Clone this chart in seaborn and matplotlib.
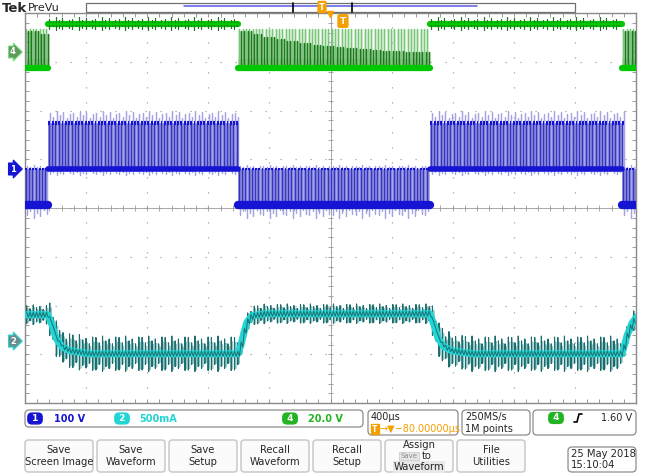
import numpy as np
import pandas as pd
import matplotlib
matplotlib.use("Agg")
import matplotlib.pyplot as plt
import seaborn as sns
from matplotlib.patches import FancyBboxPatch, Rectangle

# screen units: x in divisions (400 us/div), y in divisions
pwm_period = 0.054                                  # switching period, div
switch_edges = [0.0, 0.376, 3.486, 6.628, 9.771, 10.0]
ch4_state = [0, 1, 0, 1, 0]                         # 1 = ch4 high

ch4_high = 3.77
ch4_low = 2.87
ch4_pulse_top = 3.68
ch4_decay_top = [3.64, 3.57, 3.51, 3.46, 3.42, 3.38, 3.35, 3.32, 3.30, 3.28,
                 3.26, 3.24, 3.23, 3.22, 3.21, 3.20]
ch4_ripple = [0.10, 0.05, 0.14, 0.08, 0.12, 0.04, 0.09]

ch1_ground = 0.80
ch1_top = 1.74
ch1_bottom = 0.06
ch1_spike = [0.20, 0.12, 0.26, 0.16, 0.22, 0.10, 0.18]

ch2_env_x = [0.0, 0.376, 0.442, 0.507, 0.606, 0.736, 1.064, 3.486, 3.535, 3.584,
             3.633, 3.715, 3.928, 6.628, 6.694, 6.759, 6.858, 6.989, 7.316, 9.771,
             9.853, 9.935, 10.0]
ch2_env_y = [-2.19, -2.19, -2.40, -2.67, -2.85, -2.93, -2.99, -2.99, -2.81, -2.55,
             -2.34, -2.21, -2.17, -2.17, -2.40, -2.67, -2.85, -2.93, -2.99, -2.99,
             -2.62, -2.36, -2.25]
ch2_ripple = [0.33, 0.22, 0.36, 0.26, 0.30, 0.20, 0.34]

marker_y = {"4": 3.2, "1": ch1_ground, "2": -2.73}

scale_labels = ["100 V", "500mA", "20.0 V"]
button_labels = ["Save\nScreen Image", "Save\nWaveform", "Save\nSetup",
                 "Recall\nWaveform", "Recall\nSetup", "", "File\nUtilities"]

GREEN, GREEN_D, GREEN_L = "#00c800", "#1f7a1f", "#78c878"
BLUE, BLUE_M, BLUE_L = "#1414d2", "#3535c2", "#a4a4e4"
CYAN, TEAL, TEAL_L = "#22d4d4", "#1c6e6e", "#93c6c6"
ORANGE = "#f5a000"

sns.set_theme(style="white")
plt.rcParams['font.family'] = ['DejaVu Sans']

W, H = 652, 475
fig = plt.figure(figsize=(W / 100, H / 100), dpi=100)
fig.patch.set_facecolor("white")
ax = fig.add_axes([25 / W, (H - 403) / H, 611 / W, 390 / H])
ui = fig.add_axes([0, 0, 1, 1])
ui.set_xlim(0, W)
ui.set_ylim(H, 0)
ui.axis("off")
ui.patch.set_alpha(0)
ui.set_zorder(3)

ax.set_xlim(0, 10)
ax.set_ylim(-4, 4)

# graticule
for v in range(1, 10):
    ax.axvline(v, color="#a0a0a0", lw=0.9, ls=(0, (1, 11)), zorder=0)
for v in range(-3, 4):
    ax.axhline(v, color="#a0a0a0", lw=0.9, ls=(0, (1, 11)), zorder=0)
ax.axhline(0, color="#9a9a9a", lw=0.6, zorder=0)
ax.axvline(5, color="#9a9a9a", lw=0.6, zorder=0)
ax.vlines(np.arange(0, 10.01, 0.2), -0.06, 0.06, color="#9a9a9a", lw=0.6, zorder=0)
ax.hlines(np.arange(-4, 4.01, 0.2), 4.96, 5.04, color="#9a9a9a", lw=0.6, zorder=0)
ax.set_xticks(np.arange(0, 10.01, 0.2))
ax.set_yticks(np.arange(-4, 4.01, 0.2))
ax.tick_params(direction="in", length=3, width=0.6, color="#8a8a8a",
               top=True, right=True, bottom=True, left=True,
               labelbottom=False, labelleft=False)
for s in ax.spines.values():
    s.set_color("#8a8a8a")
    s.set_linewidth(1.0)
ax.set_xlabel("")
ax.set_ylabel("")


def line(xs, ys, **kw):
    sns.lineplot(x=np.asarray(xs), y=np.asarray(ys), ax=ax, sort=False,
                 estimator=None, legend=False, **kw)


# ---- channel 4 (green) ----
for i, st in enumerate(ch4_state):
    t0, t1 = switch_edges[i], switch_edges[i + 1]
    ts = np.arange(t0 + pwm_period * 0.4, t1, pwm_period)
    if st == 1:
        xs, ys = [], []
        for k, t in enumerate(ts):
            r = ch4_ripple[k % len(ch4_ripple)]
            xs += [t, t, t, t]
            ys += [ch4_high, ch4_high + r, ch4_high - r * 0.9, ch4_high]
        line([t0, t1], [ch4_high, ch4_high], color=GREEN, lw=4.5, zorder=3)
        line(xs, ys, color=GREEN_D, lw=0.8, zorder=4)
        line([t0, t1], [ch4_high, ch4_high], color=GREEN, lw=1.5, zorder=5)
    else:
        nb = len(ch4_decay_top)
        span = switch_edges[2] - switch_edges[1]
        tops = [ch4_decay_top[min(int((t - t0) / span * nb), nb - 1)] for t in ts]
        ax.fill_between([t0, t1], ch4_low, 3.06, color=GREEN_L, alpha=0.45, lw=0, zorder=2)
        xl, yl, xd, yd = [], [], [], []
        for k, t in enumerate(ts):
            xl += [t, t, t]
            yl += [ch4_low, ch4_pulse_top, ch4_low]
            xd += [t + 0.027, t + 0.027, t + 0.027]
            yd += [ch4_low, tops[k], ch4_low]
        line(xl, yl, color=GREEN_L, lw=1.0, zorder=2)
        line(xd, yd, color=GREEN_D, lw=1.0, zorder=3)
        line([t0, t1], [ch4_low, ch4_low], color=GREEN, lw=4.5, zorder=4)

# ---- channel 1 (blue) ----
for i, st in enumerate(ch4_state):
    t0, t1 = switch_edges[i], switch_edges[i + 1]
    ts = np.arange(t0 + pwm_period * 0.2, t1, pwm_period)
    if st == 1:
        lo, hi, band_lo, band_hi = ch1_ground, ch1_top, 4.0, 3.0
    else:
        lo, hi, band_lo, band_hi = ch1_bottom, ch1_ground, 6.0, 1.5
    ax.fill_between([t0, t1], lo, hi, color=BLUE_L, alpha=0.75, lw=0, zorder=2)
    xs, ys, xsp, ysp = [], [], [], []
    for k, t in enumerate(ts):
        s = ch1_spike[k % len(ch1_spike)]
        xs += [t, t, t]
        ys += [lo, hi, lo]
        xsp += [t + 0.025, t + 0.025, t + 0.025, t + 0.025]
        ysp += [lo, hi + s * (1 if st else 0.3), lo - s * (0.5 if st else 1.0), lo]
    line(xsp, ysp, color=BLUE_L, lw=0.9, zorder=3)
    line(xs, ys, color=BLUE_M, lw=1.0, zorder=4)
    line([t0, t1], [lo, lo], color=BLUE, lw=band_lo, zorder=5)
    for t in ts:
        ax.plot([t - 0.004, t + pwm_period * 0.5], [hi, hi], color=BLUE,
                lw=band_hi, solid_capstyle="butt", zorder=5)

# ---- channel 2 (cyan) ----
ts = np.arange(pwm_period * 0.5, 10.0, pwm_period)
env = np.interp(ts, ch2_env_x, ch2_env_y)
xr, yr, xr2, yr2 = [], [], [], []
for k, t in enumerate(ts):
    seg = np.searchsorted(switch_edges, t) - 1
    a = ch2_ripple[k % len(ch2_ripple)] * (1.0 if ch4_state[seg] else 0.55)
    xr += [t, t, t, t]
    yr += [env[k], env[k] + a, env[k] - a, env[k]]
    xr2 += [t + 0.02, t + 0.02, t + 0.02, t + 0.02]
    yr2 += [env[k], env[k] + a * 0.7, env[k] - a * 0.9, env[k]]
line(xr2, yr2, color=TEAL_L, lw=0.9, zorder=2)
line(xr, yr, color=TEAL, lw=0.8, zorder=3)
line(ch2_env_x, ch2_env_y, color=CYAN, lw=5, zorder=4)
zx, zy = [], []
for k, t in enumerate(ts):
    zx += [t, t + pwm_period / 2]
    zy += [env[k] + 0.05, env[k] - 0.05]
line(zx, zy, color=TEAL, lw=0.7, zorder=5)


# ---- channel markers on the left ----
def to_py(yd):
    return 208 - yd * 48.75


mk = {"4": ("#5e9a5e", "#7ee07e"), "1": (BLUE, BLUE), "2": ("#6c8c8c", CYAN)}
for ch, (fc, ec) in mk.items():
    ui.text(10, to_py(marker_y[ch]), ch, color="white", fontsize=6, fontweight="bold",
            va="center", ha="left",
            bbox=dict(boxstyle="rarrow,pad=0.18", fc=fc, ec=ec, lw=0.8))

# ---- top bar ----
ui.text(2, 8, "Tek", fontsize=9.5, fontweight="bold", va="center", ha="left")
ui.text(28, 8, "PreVu", fontsize=8, va="center", ha="left")
ui.add_patch(Rectangle((86, 3), 489, 9, fc="white", ec="#707070", lw=0.9))
ui.plot([184, 477], [6.3, 6.3], color="#5a5ae6", lw=1.1)
ui.plot([293, 293], [3, 12], color="black", lw=1.2)
ui.plot([352, 352], [3, 12], color="black", lw=1.2)
ui.text(322, 7, "T", fontsize=6, color="white", fontweight="bold", ha="center", va="center",
        bbox=dict(boxstyle="round,pad=0.12", fc=ORANGE, ec=ORANGE))
ui.plot([330], [13.5], marker="v", color=ORANGE, ms=5)
ui.text(343, 21, "T", fontsize=6.5, color="white", fontweight="bold", ha="center", va="center",
        bbox=dict(boxstyle="round,pad=0.2", fc=ORANGE, ec=ORANGE))


# ---- info bar ----
def rbox(x, y, w, h, fc="white", ec="#8c8c8c", r=4, lw=0.9):
    ui.add_patch(FancyBboxPatch((x + r, y + r), w - 2 * r, h - 2 * r,
                                boxstyle="round,pad=%g" % r, fc=fc, ec=ec, lw=lw))


def pill(x, y, txt, col):
    ui.text(x, y, txt, fontsize=6.5, fontweight="bold", color="white", ha="center", va="center",
            bbox=dict(boxstyle="round,pad=0.1,rounding_size=0.45", fc=col, ec=col))


rbox(25, 410, 338, 17)
pill(35, 418.5, " 1 ", BLUE)
ui.text(54, 418.5, scale_labels[0], color=BLUE, fontsize=7, fontweight="bold", va="center")
pill(122, 418.5, " 2 ", CYAN)
ui.text(139, 418.5, scale_labels[1], color=CYAN, fontsize=7, fontweight="bold", va="center")
pill(290, 418.5, " 4 ", "#22b422")
ui.text(308, 418.5, scale_labels[2], color="#22b422", fontsize=7, fontweight="bold", va="center")

rbox(368, 410, 90, 25)
ui.text(371, 417, "400µs", fontsize=7, va="center")
ui.text(375, 429, "T", fontsize=5.5, color="white", fontweight="bold", ha="center", va="center",
        bbox=dict(boxstyle="square,pad=0.12", fc=ORANGE, ec=ORANGE))
ui.text(380, 429, "→▼−80.00000µs", fontsize=7, color=ORANGE, va="center")
rbox(462, 410, 68, 25)
ui.text(465, 417, "250MS/s", fontsize=7, va="center")
ui.text(465, 429, "1M points", fontsize=7, va="center")
rbox(533, 410, 103, 25)
pill(556, 418, " 4 ", "#22b422")
ui.plot([574, 577, 579, 582], [422, 422, 414, 414], color="black", lw=1.2)
ui.text(632, 418, "1.60 V", fontsize=7, ha="right", va="center")

# ---- soft buttons ----
for i, lab in enumerate(button_labels):
    x = 25 + i * 72
    rbox(x, 440, 68, 32, fc="#fbfbfb", ec="#c4c4c4", r=3, lw=1.0)
    if lab:
        ui.text(x + 34, 456, lab, fontsize=7.2, ha="center", va="center", linespacing=1.15)
ui.text(419, 445, "Assign", fontsize=7.2, ha="center", va="center")
ui.text(409, 456, "Save", fontsize=5, color="#8a8a8a", ha="center", va="center",
        bbox=dict(boxstyle="square,pad=0.15", fc="#e6e6e6", ec="#c8c8c8", lw=0.5))
ui.text(427, 456, "to", fontsize=7.2, ha="center", va="center")
ui.text(419, 467, "Waveform", fontsize=7.2, ha="center", va="center",
        bbox=dict(boxstyle="square,pad=0.1", fc="#e8e8e8", ec="none"))
rbox(568, 447, 68, 25, fc="white", ec="#8c8c8c", r=4)
ui.text(571, 454, "25 May 2018", fontsize=7.2, va="center")
ui.text(571, 465, "15:10:04", fontsize=7.2, va="center")

fig.savefig("out.png", dpi=100)
